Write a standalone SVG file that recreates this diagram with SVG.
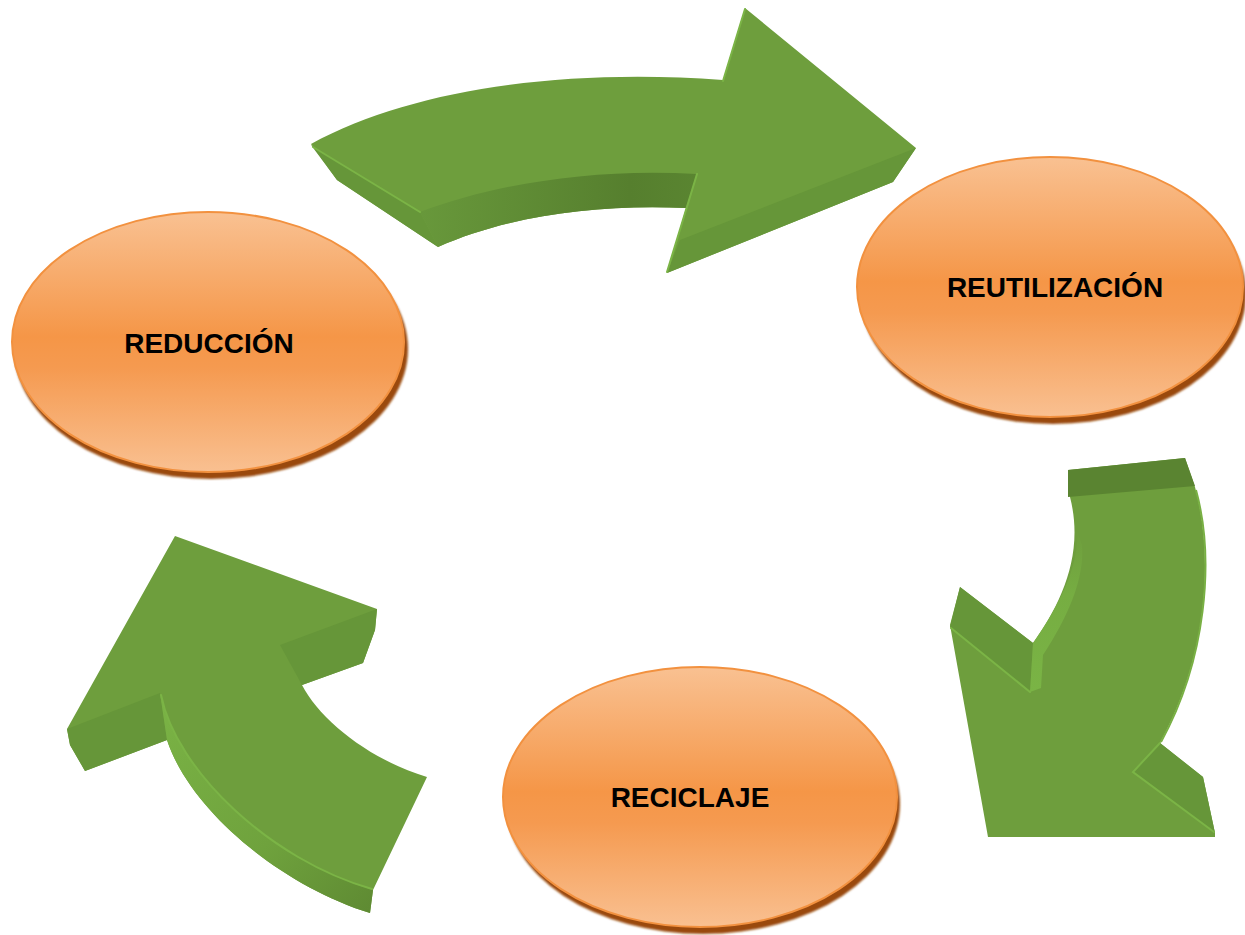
<svg xmlns="http://www.w3.org/2000/svg" width="1245" height="935" viewBox="0 0 1245 935">
<defs>
<linearGradient id="orange" x1="0" y1="0" x2="0" y2="1">
<stop offset="0" stop-color="#f9c192"/>
<stop offset="0.48" stop-color="#f59647"/>
<stop offset="0.6" stop-color="#f59a50"/>
<stop offset="1" stop-color="#f9c091"/>
</linearGradient>
<linearGradient id="innerTop" x1="420" y1="0" x2="700" y2="0" gradientUnits="userSpaceOnUse">
<stop offset="0" stop-color="#68983b"/>
<stop offset="0.75" stop-color="#567f2e"/>
<stop offset="1" stop-color="#5a8531"/>
</linearGradient>
<linearGradient id="outerBL" x1="160" y1="700" x2="373" y2="905" gradientUnits="userSpaceOnUse">
<stop offset="0" stop-color="#7ab345"/>
<stop offset="0.6" stop-color="#6fa23d"/>
<stop offset="1" stop-color="#5f8b33"/>
</linearGradient>
<linearGradient id="innerR" x1="0" y1="692" x2="0" y2="530" gradientUnits="userSpaceOnUse">
<stop offset="0" stop-color="#7ab445"/>
<stop offset="0.6" stop-color="#76ad42"/>
<stop offset="1" stop-color="#6e9e3d"/>
</linearGradient>
<filter id="soft" x="-5%" y="-5%" width="110%" height="115%">
<feGaussianBlur stdDeviation="1.2"/>
</filter>
</defs>
<style>
.top{fill:#6e9e3d;}
.side{fill:#669639;}
.dark{fill:#5a8431;}
.hl{fill:none;stroke:#7bb446;stroke-width:2;stroke-linecap:round;}
.shadow{fill:#9a4a0b;filter:url(#soft);}
.oval{fill:url(#orange);stroke:#f2913f;stroke-width:2;}
.label{font-family:"Liberation Sans",Arial,sans-serif;font-weight:bold;font-size:28px;fill:#000;text-anchor:middle;}
</style>
<rect width="1245" height="935" fill="#ffffff"/>

<g id="connectors">
<g id="arrow-top">
<path class="top" d="M311,144 C410,90 560,68 723,80 L745,8 L916,148 L893,182 L667,273 L686,208 C600,204 510,215 438,247 L337,180 Z"/>
<path class="side" d="M311,145 L420,212 L438,247 L337,180 Z"/>
<path fill="url(#innerTop)" d="M420,212 C500,182 600,168 697,174 L686,208 C600,204 510,215 438,247 Z"/>
<path class="side" d="M916,148 L893,182 L667,273 L680,240 Z"/>
<path class="hl" d="M313,147 L420,212"/>
<path class="hl" d="M697,174 L667,272"/>
<path class="hl" stroke-width="1.5" d="M723,81 L745,9"/>
</g>
<g id="arrow-right">
<path class="top" d="M1068,470 L1185,458 L1195,487 C1215,560 1206,660 1160,743 L1203,777 L1215,833 L1215,837 L988,837 L950,625 L960,587 L1033,643 C1060,605 1085,555 1070,497 Z"/>
<path class="dark" d="M1068,470 L1185,458 L1195,486 L1068,497 Z"/>
<path class="side" d="M960,587 L1033,643 L1030,692 L950,627 Z"/>
<path fill="url(#innerR)" d="M1030,692 L1033,643 C1058,608 1080,565 1077,530 L1082,545 C1085,580 1066,620 1043,655 L1041,688 Z"/>
<path class="side" d="M1160,743 L1203,777 L1215,833 L1133,772 Z"/>
<path class="hl" d="M951,628 L1030,692"/>
<path class="hl" d="M1160,743 L1133,772 L1214,832"/>
<path fill="none" stroke="#79b044" stroke-width="2" d="M1196,490 C1215,560 1206,660 1161,742"/>
</g>
<g id="arrow-bottom-left">
<path class="top" d="M175,536 L377,609 L375,630 L363,663 L302,685 C320,720 370,760 427,777 L373,890 L370,913 C280,885 190,810 167,740 L85,771 L70,745 L67,729 Z"/>
<path class="side" d="M67,729 L160,693 L167,740 L85,771 L70,745 Z"/>
<path class="side" d="M377,609 L280,645 L302,685 L363,663 L375,630 Z"/>
<path fill="url(#outerBL)" d="M160,693 C175,770 270,860 373,890 L370,913 C280,885 190,810 167,740 Z"/>
<path class="hl" stroke-width="1.5" d="M161,695 C176,770 270,860 372,889"/>
</g>
</g>

<g id="node-reduccion">
<ellipse class="shadow" cx="211" cy="349" rx="197" ry="130"/>
<ellipse class="oval" cx="208" cy="342" rx="196" ry="130"/>
<text class="label" x="209" y="353">REDUCCIÓN</text>
</g>
<g id="node-reutilizacion">
<ellipse class="shadow" cx="1053" cy="294" rx="193" ry="130"/>
<ellipse class="oval" cx="1050" cy="287" rx="193" ry="130"/>
<text class="label" x="1055" y="297">REUTILIZACIÓN</text>
</g>
<g id="node-reciclaje">
<ellipse class="shadow" cx="703" cy="804" rx="197" ry="130"/>
<ellipse class="oval" cx="700" cy="797" rx="197" ry="130"/>
<text class="label" x="690" y="807">RECICLAJE</text>
</g>
</svg>
